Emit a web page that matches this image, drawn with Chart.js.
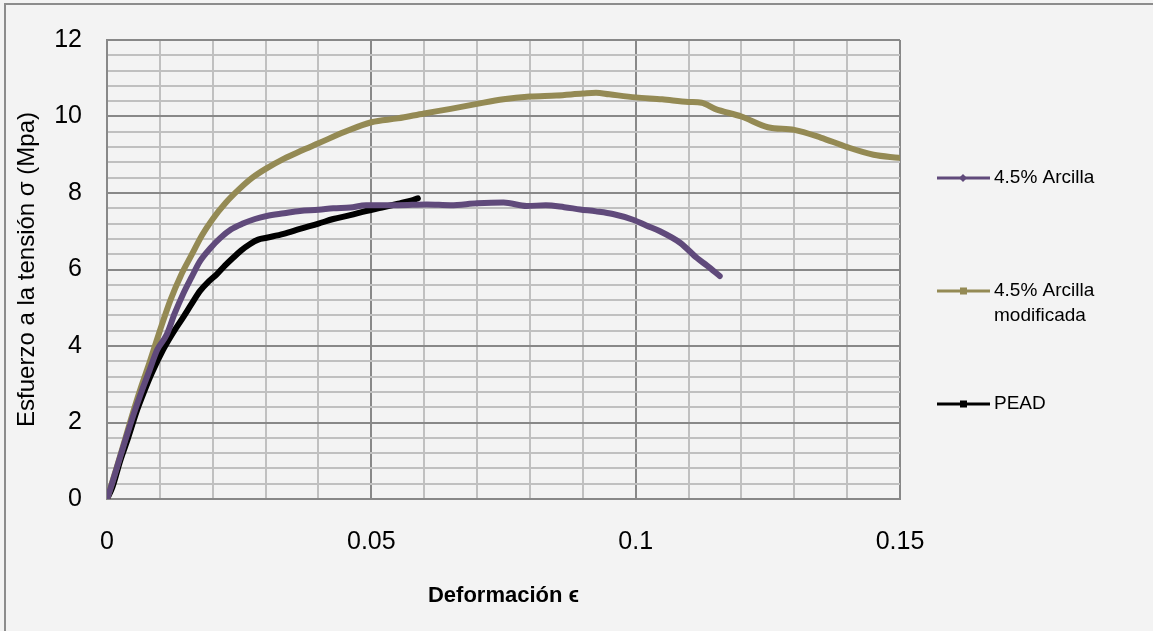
<!DOCTYPE html>
<html>
<head>
<meta charset="utf-8">
<title>Esfuerzo - deformación</title>
<script src="https://cdn.jsdelivr.net/npm/chart.js@4.4.1/dist/chart.umd.min.js"></script>
<style>
  html, body { margin: 0; padding: 0; background: #f3f3f3; }
  canvas { display: block; }
</style>
</head>
<body>
<canvas id="myChart" width="1153" height="631"></canvas>
<script>
// 4.5% Arcilla
let arcillaStrain = [0, 0.001, 0.002, 0.0035, 0.005, 0.0065, 0.008, 0.0095, 0.0113, 0.0128, 0.0144, 0.016, 0.0176, 0.0195, 0.0214, 0.0235, 0.0257, 0.028, 0.0302, 0.0335, 0.0365, 0.04, 0.0428, 0.046, 0.049, 0.055, 0.0605, 0.065, 0.07, 0.075, 0.0794, 0.083, 0.0865, 0.0895, 0.0925, 0.0957, 0.0995, 0.102, 0.1046, 0.1084, 0.1116, 0.1135, 0.1159];
let arcillaStress = [0, 0.42, 0.88, 1.55, 2.2, 2.8, 3.35, 3.9, 4.3, 4.85, 5.36, 5.8, 6.22, 6.55, 6.82, 7.05, 7.2, 7.32, 7.4, 7.47, 7.53, 7.56, 7.6, 7.62, 7.68, 7.68, 7.7, 7.68, 7.73, 7.75, 7.66, 7.68, 7.63, 7.57, 7.52, 7.45, 7.3, 7.15, 7.0, 6.7, 6.3, 6.1, 5.83];

// 4.5% Arcilla modificada
let modificadaStrain = [0, 0.001, 0.002, 0.0035, 0.005, 0.0065, 0.008, 0.01, 0.012, 0.014, 0.016, 0.018, 0.02, 0.0225, 0.025, 0.0275, 0.03, 0.0335, 0.0365, 0.04, 0.045, 0.05, 0.055, 0.06, 0.065, 0.07, 0.075, 0.08, 0.085, 0.09, 0.0925, 0.095, 0.1, 0.105, 0.11, 0.1125, 0.115, 0.12, 0.125, 0.13, 0.135, 0.14, 0.145, 0.1497];
let modificadaStress = [0, 0.45, 0.9, 1.6, 2.3, 2.95, 3.55, 4.4, 5.2, 5.85, 6.38, 6.9, 7.32, 7.75, 8.1, 8.4, 8.63, 8.9, 9.09, 9.3, 9.6, 9.85, 9.95, 10.08, 10.2, 10.33, 10.45, 10.52, 10.55, 10.6, 10.62, 10.58, 10.5, 10.45, 10.38, 10.36, 10.2, 10.0, 9.72, 9.65, 9.45, 9.2, 9.0, 8.92];

// PEAD
let peadStrain = [0, 0.001, 0.0025, 0.004, 0.0055, 0.007, 0.0085, 0.0106, 0.0125, 0.0144, 0.016, 0.0176, 0.0192, 0.0208, 0.0223, 0.0238, 0.0254, 0.027, 0.0286, 0.0302, 0.0334, 0.0365, 0.04, 0.0428, 0.046, 0.049, 0.052, 0.0554, 0.0575, 0.0588];
let peadStress = [0, 0.3, 1.0, 1.6, 2.25, 2.8, 3.3, 3.9, 4.35, 4.75, 5.1, 5.44, 5.68, 5.88, 6.1, 6.3, 6.5, 6.66, 6.78, 6.83, 6.93, 7.06, 7.2, 7.32, 7.42, 7.53, 7.62, 7.73, 7.8, 7.86];

let seriesNames = ["4.5% Arcilla", "4.5% Arcilla\nmodificada", "PEAD"];

function toPoints(xs, ys) {
	return xs.map((x, i) => ({ x: x, y: ys[i] }));
}

function isMultiple(v, step) {
	return Math.abs(v / step - Math.round(v / step)) < 1e-6;
}

const narrow = "'Liberation Sans Narrow', 'Liberation Sans', Arial, sans-serif";
const regular = "'Liberation Sans', Arial, sans-serif";

// background, outer frame and the legend on the right
const decorations = {
	id: "decorations",
	beforeDraw(chart) {
		const c = chart.ctx;
		c.save();
		c.fillStyle = "#f3f3f3";
		c.fillRect(0, 0, chart.width, chart.height);
		c.strokeStyle = "#8c8c8c";
		c.lineWidth = 2;
		c.beginPath();
		c.moveTo(5, chart.height);
		c.lineTo(5, 4);
		c.lineTo(chart.width, 4);
		c.stroke();
		c.restore();
	},
	afterDraw(chart) {
		const c = chart.ctx;
		const rows = [178, 291, 404];
		c.save();
		chart.data.datasets.forEach((ds, i) => {
			const y = rows[i];
			c.strokeStyle = ds.borderColor;
			c.lineWidth = 3;
			c.beginPath();
			c.moveTo(937, y);
			c.lineTo(990, y);
			c.stroke();
			c.fillStyle = ds.borderColor;
			if (ds.pointStyle === "rectRot") {
				c.beginPath();
				c.moveTo(963, y - 4);
				c.lineTo(967, y);
				c.lineTo(963, y + 4);
				c.lineTo(959, y);
				c.closePath();
				c.fill();
			} else {
				c.fillRect(960, y - 3.5, 7, 7);
			}
			c.fillStyle = "#000";
			c.font = "19px " + narrow;
			c.textBaseline = "middle";
			ds.label.split("\n").forEach((line, j) => {
				c.fillText(line, 994, y + j * 25);
			});
		});
		c.restore();
	}
};

var ctx = document.getElementById("myChart");
var chart = new Chart(ctx, {
	type: "scatter",
	data: {
		datasets: [
			{
				label: seriesNames[0],
				data: toPoints(arcillaStrain, arcillaStress),
				borderColor: "#604a7b",
				backgroundColor: "#604a7b",
				pointStyle: "rectRot"
			},
			{
				label: seriesNames[1],
				data: toPoints(modificadaStrain, modificadaStress),
				borderColor: "#948a54",
				backgroundColor: "#948a54",
				pointStyle: "rect"
			},
			{
				label: seriesNames[2],
				data: toPoints(peadStrain, peadStress),
				borderColor: "#000000",
				backgroundColor: "#000000",
				pointStyle: "rect"
			}
		]
	},
	options: {
		responsive: false,
		animation: false,
		showLine: true,
		elements: {
			line: { borderWidth: 6, cubicInterpolationMode: "monotone", borderCapStyle: "round", borderJoinStyle: "round" },
			point: { radius: 0, hoverRadius: 0 }
		},
		layout: { padding: { top: 38, right: 253, left: 0, bottom: 12 } },
		plugins: {
			legend: { display: false },
			tooltip: { enabled: false }
		},
		scales: {
			x: {
				type: "linear",
				min: 0,
				max: 0.15,
				afterFit(scale) { scale.height = 120; },
				border: { color: "#888888", width: 2 },
				grid: {
					drawTicks: false,
					lineWidth: 2,
					color: (c) => isMultiple(c.tick.value, 0.05) ? "#888888" : "#c0c0c0"
				},
				ticks: {
					stepSize: 0.01,
					padding: 28,
					color: "#000",
					maxRotation: 0,
					autoSkip: false,
					font: { family: narrow, size: 25 },
					callback: (v) => isMultiple(v, 0.05) ? String(+v.toFixed(2)) : ""
				},
				title: {
					display: true,
					text: "Deformación ϵ",
					color: "#000",
					font: { family: narrow, size: 22, weight: "bold" },
					padding: { top: 0, bottom: 10 }
				}
			},
			y: {
				type: "linear",
				min: 0,
				max: 12,
				afterFit(scale) { scale.width = 107; },
				border: { color: "#888888", width: 2 },
				grid: {
					drawTicks: false,
					lineWidth: 2,
					color: (c) => isMultiple(c.tick.value, 2) ? "#888888" : "#c0c0c0"
				},
				ticks: {
					stepSize: 0.4,
					padding: 25,
					color: "#000",
					autoSkip: false,
					font: { family: narrow, size: 25 },
					callback: (v) => isMultiple(v, 2) ? String(Math.round(v)) : ""
				},
				title: {
					display: true,
					text: "Esfuerzo a la tensión σ (Mpa)",
					color: "#000",
					font: { family: regular, size: 24 },
					padding: { top: 13, bottom: 0 }
				}
			}
		}
	},
	plugins: [decorations]
});
</script>
</body>
</html>
